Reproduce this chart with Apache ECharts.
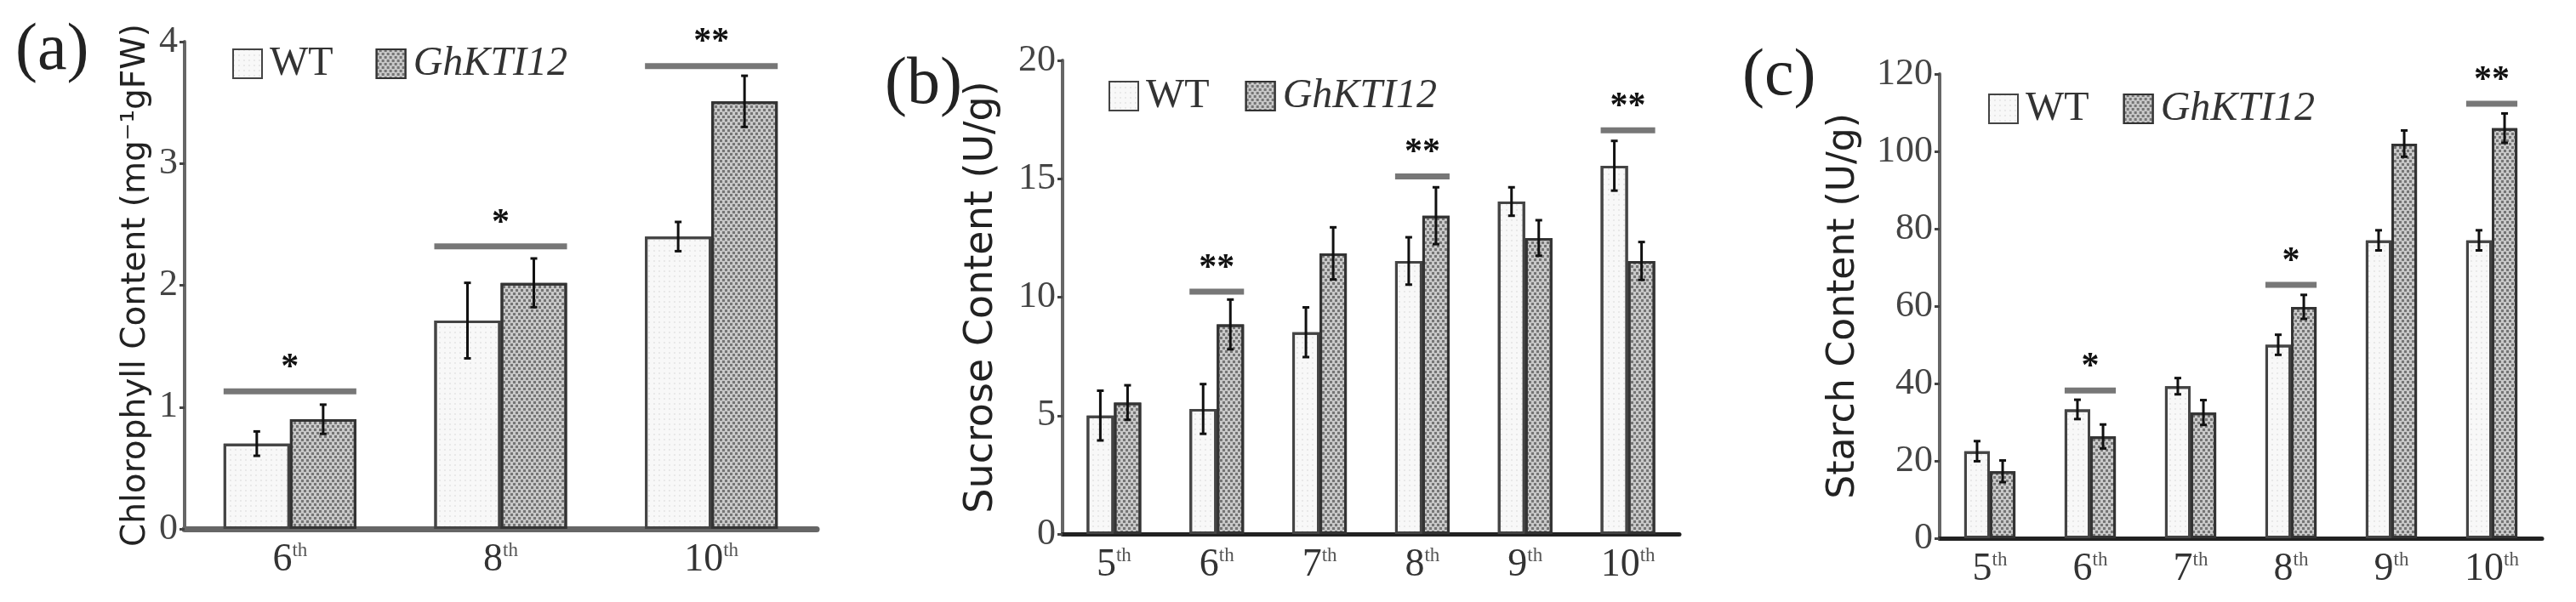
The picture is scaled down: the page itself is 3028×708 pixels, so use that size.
<!doctype html>
<html lang="en">
<head>
	<meta charset="UTF-8">
	<title>Chlorophyll / Sucrose / Starch</title>
	<script src="https://cdn.jsdelivr.net/npm/echarts@6/dist/echarts.min.js"></script>
	<style>
		html, body { margin: 0; padding: 0; background: #fff; }
		#main { width: 3028px; height: 708px; }
	</style>
</head>
<body>
<div id="main"></div>
<script type="text/javascript">
	// (a) chlorophyll
	var aCats = ['6', '8', '10'];
	var aWT = [0.7, 1.71, 2.4];
	var aGh = [0.9, 2.02, 3.51];
	var aWTerr = [0.1, 0.31, 0.12];
	var aGhErr = [0.12, 0.2, 0.21];
	var aSigCat = [0, 1, 2];
	var aSigLevel = [1.13, 2.32, 3.8];
	var aSigMark = ['*', '*', '**'];
	var aTicks = [0, 4, 1];

	// (b) sucrose
	var bCats = ['5', '6', '7', '8', '9', '10'];
	var bWT = [5.0, 5.28, 8.52, 11.53, 14.04, 15.55];
	var bGh = [5.55, 8.85, 11.85, 13.44, 12.5, 11.53];
	var bWTerr = [1.05, 1.05, 1.05, 1.0, 0.6, 1.05];
	var bGhErr = [0.73, 1.05, 1.1, 1.2, 0.75, 0.8];
	var bSigCat = [1, 3, 5];
	var bSigLevel = [10.23, 15.1, 17.05];
	var bSigMark = ['**', '**', '**'];
	var bTicks = [0, 20, 5];

	// (c) starch
	var cCats = ['5', '6', '7', '8', '9', '10'];
	var cWT = [22.5, 33.3, 39.3, 50, 77, 77];
	var cGh = [17.3, 26.3, 32.5, 59.8, 102, 106];
	var cWTerr = [2.6, 2.5, 2.1, 2.6, 2.6, 2.6];
	var cGhErr = [2.8, 3.1, 3.2, 3.1, 3.4, 3.8];
	var cSigCat = [1, 3, 5];
	var cSigLevel = [38.2, 65.5, 112.3];
	var cSigMark = ['*', '*', '**'];
	var cTicks = [0, 120, 20];

	var serif = '"Liberation Serif", "Times New Roman", serif';
	var sans = '"DejaVu Sans", Verdana, sans-serif';

	var wtStyle = {
		color: '#f8f8f8',
		borderColor: '#444',
		borderWidth: 3,
		decal: {
			symbol: 'rect', symbolSize: 0.6, color: 'rgba(150,150,150,0.5)',
			dashArrayX: [2, 4], dashArrayY: [2, 4]
		}
	};
	var ghStyle = {
		color: '#c8c8c8',
		borderColor: '#333',
		borderWidth: 3,
		decal: {
			symbol: 'rect', symbolSize: 1, color: 'rgba(90,90,90,0.75)',
			dashArrayX: [[3, 3], [0, 3, 3, 0]], dashArrayY: [3, 0.001]
		}
	};

	var panels = [
		{cats: aCats, wt: aWT, gh: aGh, wtE: aWTerr, ghE: aGhErr, sc: aSigCat, sl: aSigLevel, sm: aSigMark, ticks: aTicks,
			grid: {left: 217, right: 3028 - 960, top: 49, bottom: 708 - 622}, gap: 0.37,
			name: 'Chlorophyll Content (mg\u207B\u00B9gFW)', nameSize: 39, nameGap: 38,
			xColor: '#666', xWidth: 7, legend: {left: 268, top: 46, itemGap: 50},
			tag: '(a)', tagX: 18, tagY: 22},
		{cats: bCats, wt: bWT, gh: bGh, wtE: bWTerr, ghE: bGhErr, sc: bSigCat, sl: bSigLevel, sm: bSigMark, ticks: bTicks,
			grid: {left: 1249, right: 3028 - 1974, top: 71, bottom: 708 - 628}, gap: 0.47,
			name: 'Sucrose Content (U/g)', nameSize: 46, nameGap: 72,
			xColor: '#222', xWidth: 5, legend: {left: 1298, top: 84, itemGap: 42},
			tag: '(b)', tagX: 1040, tagY: 62},
		{cats: cCats, wt: cWT, gh: cGh, wtE: cWTerr, ghE: cGhErr, sc: cSigCat, sl: cSigLevel, sm: cSigMark, ticks: cTicks,
			grid: {left: 2280, right: 3028 - 2988, top: 87, bottom: 708 - 633}, gap: 0.49,
			name: 'Starch Content (U/g)', nameSize: 44, nameGap: 90,
			xColor: '#222', xWidth: 5, legend: {left: 2332, top: 99, itemGap: 40},
			tag: '(c)', tagX: 2048, tagY: 52}
	];

	function errRender(side, gap) {
		return function (params, api) {
			var i = api.value(0);
			var top = api.coord([i, api.value(2)]);
			var bot = api.coord([i, api.value(1)]);
			var band = api.size([1, 0])[0];
			var w = band * (1 - gap) / 2;
			var x = top[0] + side * w / 2;
			var cap = 4;
			var st = {stroke: '#111', lineWidth: 3};
			return {type: 'group', children: [
				{type: 'line', shape: {x1: x, y1: top[1], x2: x, y2: bot[1]}, style: st},
				{type: 'line', shape: {x1: x - cap, y1: top[1], x2: x + cap, y2: top[1]}, style: st},
				{type: 'line', shape: {x1: x - cap, y1: bot[1], x2: x + cap, y2: bot[1]}, style: st}
			]};
		};
	}

	function sigRender(gap) {
		return function (params, api) {
			var p = api.coord([api.value(0), api.value(1)]);
			var band = api.size([1, 0])[0];
			var w = band * (1 - gap) / 2;
			return {type: 'group', children: [
				{type: 'line', shape: {x1: p[0] - w, y1: p[1], x2: p[0] + w, y2: p[1]},
					style: {stroke: '#777', lineWidth: 7}},
				{type: 'text', x: p[0], y: p[1] - 6,
					style: {text: api.value(2), font: 'bold 42px ' + serif, fill: '#111',
						align: 'center', verticalAlign: 'bottom'}}
			]};
		};
	}

	var option = {
		animation: false,
		backgroundColor: '#fff',
		grid: [], xAxis: [], yAxis: [], series: [], legend: [], graphic: []
	};

	panels.forEach(function (p, k) {
		option.grid.push(p.grid);
		option.xAxis.push({
			type: 'category', gridIndex: k, data: p.cats,
			axisLine: {lineStyle: {color: p.xColor, width: p.xWidth}},
			axisTick: {show: false},
			axisLabel: {
				margin: 14,
				formatter: function (v) { return '{n|' + v + '}{s|th}'; },
				rich: {
					n: {fontFamily: serif, fontSize: 46, color: '#333', lineHeight: 46},
					s: {fontFamily: serif, fontSize: 23, color: '#555', verticalAlign: 'top', lineHeight: 46, padding: [0, 0, 18, 0]}
				}
			}
		});
		option.yAxis.push({
			type: 'value', gridIndex: k, min: p.ticks[0], max: p.ticks[1], interval: p.ticks[2],
			name: p.name, nameLocation: 'middle', nameRotate: 90, nameGap: p.nameGap,
			nameTextStyle: {fontFamily: sans, fontSize: p.nameSize, color: '#222'},
			axisLine: {show: true, lineStyle: {color: '#666', width: 4}},
			axisTick: {show: true, length: 6, lineStyle: {color: '#444', width: 3}},
			axisLabel: {fontFamily: serif, fontSize: 44, color: '#444', margin: 8},
			splitLine: {show: false}
		});
		option.series.push({
			name: 'WT', type: 'bar', xAxisIndex: k, yAxisIndex: k, data: p.wt,
			barGap: '0%', barCategoryGap: (p.gap * 100) + '%', itemStyle: wtStyle
		});
		option.series.push({
			name: 'GhKTI12', type: 'bar', xAxisIndex: k, yAxisIndex: k, data: p.gh,
			barGap: '0%', barCategoryGap: (p.gap * 100) + '%', itemStyle: ghStyle
		});
		option.series.push({
			type: 'custom', xAxisIndex: k, yAxisIndex: k, z: 5, silent: true,
			renderItem: errRender(-1, p.gap),
			data: p.wt.map(function (v, i) { return [i, v - p.wtE[i], v + p.wtE[i]]; })
		});
		option.series.push({
			type: 'custom', xAxisIndex: k, yAxisIndex: k, z: 5, silent: true,
			renderItem: errRender(1, p.gap),
			data: p.gh.map(function (v, i) { return [i, v - p.ghE[i], v + p.ghE[i]]; })
		});
		option.series.push({
			type: 'custom', xAxisIndex: k, yAxisIndex: k, z: 6, silent: true, clip: false,
			renderItem: sigRender(p.gap),
			data: p.sc.map(function (c, i) { return [c, p.sl[i], p.sm[i]]; })
		});
		option.legend.push({
			left: p.legend.left, top: p.legend.top, orient: 'horizontal',
			data: [{name: 'WT', icon: 'rect'}, {name: 'GhKTI12', icon: 'rect'}],
			itemWidth: 34, itemHeight: 34, itemGap: p.legend.itemGap,
			selectedMode: false,
			formatter: function (n) { return n === 'GhKTI12' ? '{i|' + n + '}' : '{r|' + n + '}'; },
			textStyle: {
				fontFamily: serif, fontSize: 48, color: '#333', padding: [0, 0, 0, 4],
				rich: {
					r: {fontFamily: serif, fontSize: 48, color: '#333'},
					i: {fontFamily: serif, fontSize: 48, fontStyle: 'italic', color: '#333'}
				}
			}
		});
		option.graphic.push({
			type: 'text', left: p.tagX, top: p.tagY,
			style: {text: p.tag, font: '78px ' + serif, fill: '#222'}
		});
	});

	var myChart = echarts.init(document.getElementById('main'));
	myChart.setOption(option);
</script>
</body>
</html>
